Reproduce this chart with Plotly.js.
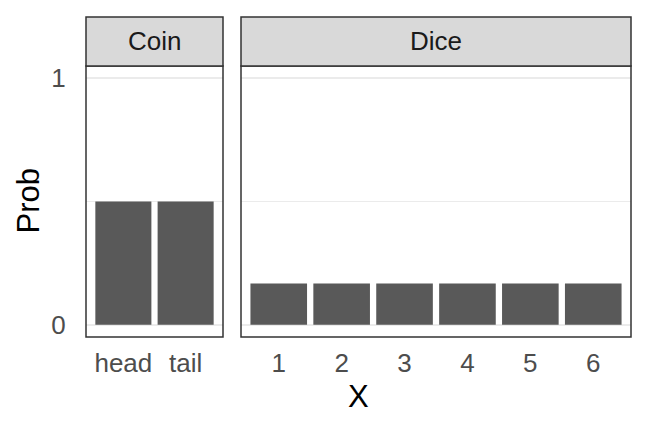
<!DOCTYPE html>
<html>
<head>
<meta charset="utf-8">
<script src="https://cdn.plot.ly/plotly-3.0.1.min.js"></script>
<style>html,body{margin:0;padding:0;background:#fff;}#chart{width:648px;height:432px;}</style>
</head>
<body>
<div id="chart"></div>
<script>
// Data
var coinCategories = ["head", "tail"];
var coinProb = [0.5, 0.5];
var diceCategories = ["1", "2", "3", "4", "5", "6"];
var diceProb = [1/6, 1/6, 1/6, 1/6, 1/6, 1/6];
var panelLabels = ["Coin", "Dice"];
var yTickVals = [0, 1];
var yTickText = ["0", "1"];
var xTitle = "X";
var yTitle = "Prob";

var W = 648, H = 432;
var FONT = "Liberation Sans, Arial, Helvetica, sans-serif";
var barColor = "#595959";
var gridColor = "#ebebeb";
var borderColor = "#333333";
var TICK = 26, TITLE = 31;

function px(x) { return x / W; }
function py(y) { return 1 - y / H; }

var panelTop = 66, panelBottom = 337, stripTop = 17;
var coinX = [86, 223], diceX = [241, 631];

var traces = [
  {type: "bar", x: coinCategories, y: coinProb, xaxis: "x", yaxis: "y",
   width: 0.9, marker: {color: barColor, line: {width: 0}}, hoverinfo: "skip", showlegend: false},
  {type: "bar", x: diceCategories, y: diceProb, xaxis: "x2", yaxis: "y2",
   width: 0.9, marker: {color: barColor, line: {width: 0}}, hoverinfo: "skip", showlegend: false}
];

var yCommon = {
  range: [-0.05, 1.05], tickmode: "array", tickvals: yTickVals, ticktext: yTickText,
  showgrid: true, gridcolor: gridColor, gridwidth: 2, zeroline: false,
  minor: {tickmode: "array", tickvals: [0.5], showgrid: true, gridcolor: gridColor, gridwidth: 1.1, ticks: ""},
  showline: false, fixedrange: true,
  domain: [py(panelBottom), py(panelTop)]
};

var layout = {
  width: W, height: H,
  margin: {l: 0, r: 0, t: 0, b: 0, pad: 0},
  paper_bgcolor: "#ffffff", plot_bgcolor: "rgba(0,0,0,0)",
  showlegend: false,
  font: {family: FONT, color: "#4d4d4d", size: TICK},
  xaxis: {
    type: "category", domain: [px(coinX[0]), px(coinX[1])], range: [-0.6, 1.6],
    anchor: "y", showgrid: false, zeroline: false, showline: false,
    ticks: "outside", ticklen: 3, tickcolor: "rgba(0,0,0,0)",
    tickfont: {family: FONT, size: TICK, color: "#4d4d4d"}, fixedrange: true
  },
  xaxis2: {
    type: "category", domain: [px(diceX[0]), px(diceX[1])], range: [-0.6, 5.6],
    anchor: "y2", showgrid: false, zeroline: false, showline: false,
    ticks: "outside", ticklen: 3, tickcolor: "rgba(0,0,0,0)",
    tickfont: {family: FONT, size: TICK, color: "#4d4d4d"}, fixedrange: true
  },
  yaxis: Object.assign({}, yCommon, {
    anchor: "x", ticks: "outside", ticklen: 14, tickcolor: "rgba(0,0,0,0)",
    tickfont: {family: FONT, size: TICK, color: "#4d4d4d"}
  }),
  yaxis2: Object.assign({}, yCommon, {
    anchor: "x2", showticklabels: false, ticks: "", matches: "y"
  }),
  shapes: [
    // panel borders
    {type: "rect", xref: "paper", yref: "paper", x0: px(coinX[0]), x1: px(coinX[1]), y0: py(panelBottom), y1: py(panelTop),
     line: {color: borderColor, width: 1.5}, fillcolor: "rgba(0,0,0,0)", layer: "above"},
    {type: "rect", xref: "paper", yref: "paper", x0: px(diceX[0]), x1: px(diceX[1]), y0: py(panelBottom), y1: py(panelTop),
     line: {color: borderColor, width: 1.5}, fillcolor: "rgba(0,0,0,0)", layer: "above"},
    // strips
    {type: "rect", xref: "paper", yref: "paper", x0: px(coinX[0]), x1: px(coinX[1]), y0: py(panelTop), y1: py(stripTop),
     line: {color: borderColor, width: 1.5}, fillcolor: "#d9d9d9", layer: "above"},
    {type: "rect", xref: "paper", yref: "paper", x0: px(diceX[0]), x1: px(diceX[1]), y0: py(panelTop), y1: py(stripTop),
     line: {color: borderColor, width: 1.5}, fillcolor: "#d9d9d9", layer: "above"}
  ],
  annotations: [
    {text: panelLabels[0], xref: "paper", yref: "paper", x: px((coinX[0] + coinX[1]) / 2), y: py((stripTop + panelTop) / 2),
     xanchor: "center", yanchor: "middle", showarrow: false, font: {family: FONT, size: TICK, color: "#1a1a1a"}},
    {text: panelLabels[1], xref: "paper", yref: "paper", x: px((diceX[0] + diceX[1]) / 2), y: py((stripTop + panelTop) / 2),
     xanchor: "center", yanchor: "middle", showarrow: false, font: {family: FONT, size: TICK, color: "#1a1a1a"}},
    {text: xTitle, xref: "paper", yref: "paper", x: px((coinX[0] + diceX[1]) / 2), y: py(396),
     xanchor: "center", yanchor: "middle", showarrow: false, font: {family: FONT, size: TITLE, color: "#000000"}},
    {text: yTitle, xref: "paper", yref: "paper", x: px(28), y: py((panelTop + panelBottom) / 2), textangle: -90,
     xanchor: "center", yanchor: "middle", showarrow: false, font: {family: FONT, size: TITLE, color: "#000000"}}
  ]
};

Plotly.newPlot("chart", traces, layout, {staticPlot: true, displayModeBar: false});
</script>
</body>
</html>
